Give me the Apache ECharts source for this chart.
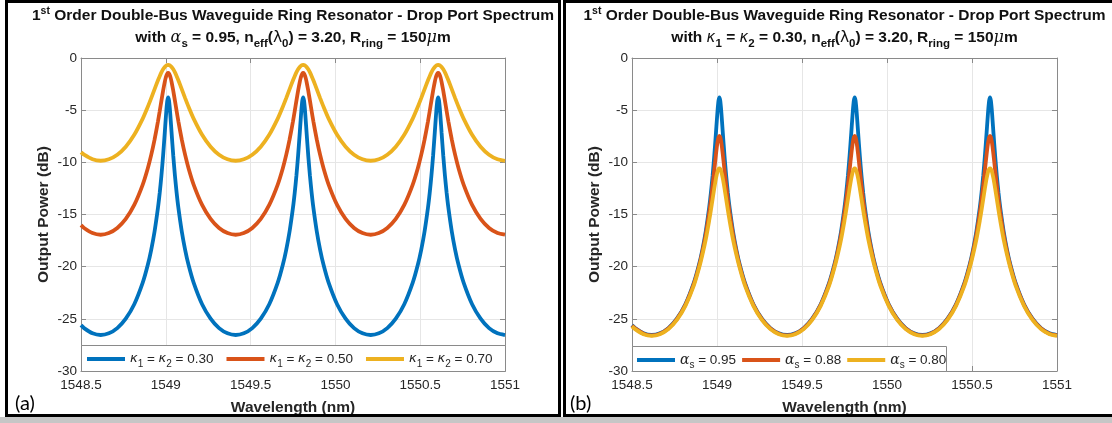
<!DOCTYPE html>
<html><head><meta charset="utf-8">
<script src="https://cdn.jsdelivr.net/npm/echarts@6/dist/echarts.min.js"></script>
<style>html,body{margin:0;padding:0;background:#fff}#c{width:1112px;height:423px}</style>
</head><body><div id="c"></div><script>
// ---- data ----
const wavelength = [
 1548.5, 1548.518, 1548.568, 1548.616,
 1548.664, 1548.714, 1548.764, 1548.814, 1548.864, 1548.894, 1548.914, 1548.934, 1548.954, 1548.964, 1548.974, 1548.984, 1548.994, 1548.999, 1549.004, 1549.009,
 1549.014,
 1549.019, 1549.024, 1549.029, 1549.034, 1549.044, 1549.054, 1549.064, 1549.074, 1549.094, 1549.114, 1549.134, 1549.164, 1549.214, 1549.264, 1549.314, 1549.364, 1549.412,
 1549.46, 1549.51, 1549.56, 1549.61, 1549.66, 1549.69, 1549.71, 1549.73, 1549.75, 1549.76, 1549.77, 1549.78, 1549.79, 1549.795, 1549.8, 1549.805,
 1549.81,
 1549.815, 1549.82, 1549.825, 1549.83, 1549.84, 1549.85, 1549.86, 1549.87, 1549.89, 1549.91, 1549.93, 1549.96, 1550.01, 1550.06, 1550.11, 1550.16, 1550.208,
 1550.256, 1550.306, 1550.356, 1550.406, 1550.456, 1550.486, 1550.506, 1550.526, 1550.546, 1550.556, 1550.566, 1550.576, 1550.586, 1550.591, 1550.596, 1550.601,
 1550.606,
 1550.611, 1550.616, 1550.621, 1550.626, 1550.636, 1550.646, 1550.656, 1550.666, 1550.686, 1550.706, 1550.726, 1550.756, 1550.806, 1550.856, 1550.906, 1550.956, 1551
];
// panel (a): alpha_s = 0.95 ; kappa1 = kappa2 = 0.30 (also alpha_s = 0.95 curve of panel b)
const kappa030 = [
 -25.61, -25.89, -26.39, -26.55,
 -26.39, -25.89, -24.98, -23.60, -21.53, -19.82, -18.38, -16.60, -14.33, -12.94, -11.30, -9.37, -7.14, -5.98, -4.89, -4.08,
 -3.78,
 -4.08, -4.89, -5.98, -7.14, -9.37, -11.30, -12.94, -14.33, -16.60, -18.38, -19.82, -21.53, -23.60, -24.98, -25.89, -26.39, -26.55,
 -26.39, -25.89, -24.98, -23.60, -21.53, -19.82, -18.38, -16.60, -14.33, -12.94, -11.30, -9.37, -7.14, -5.98, -4.89, -4.08,
 -3.78,
 -4.08, -4.89, -5.98, -7.14, -9.37, -11.30, -12.94, -14.33, -16.60, -18.38, -19.82, -21.53, -23.60, -24.98, -25.89, -26.39, -26.55,
 -26.39, -25.89, -24.98, -23.60, -21.53, -19.82, -18.38, -16.60, -14.33, -12.94, -11.30, -9.37, -7.14, -5.98, -4.89, -4.08,
 -3.78,
 -4.08, -4.89, -5.98, -7.14, -9.37, -11.30, -12.94, -14.33, -16.60, -18.38, -19.82, -21.53, -23.60, -24.98, -25.89, -26.39, -26.55
];
const kappa050 = [
 -16.02, -16.29, -16.78, -16.94,
 -16.78, -16.29, -15.42, -14.08, -12.13, -10.56, -9.29, -7.80, -6.06, -5.10, -4.11, -3.14, -2.28, -1.93, -1.66, -1.49,
 -1.44,
 -1.49, -1.66, -1.93, -2.28, -3.14, -4.11, -5.10, -6.06, -7.80, -9.29, -10.56, -12.13, -14.08, -15.42, -16.29, -16.78, -16.94,
 -16.78, -16.29, -15.42, -14.08, -12.13, -10.56, -9.29, -7.80, -6.06, -5.10, -4.11, -3.14, -2.28, -1.93, -1.66, -1.49,
 -1.44,
 -1.49, -1.66, -1.93, -2.28, -3.14, -4.11, -5.10, -6.06, -7.80, -9.29, -10.56, -12.13, -14.08, -15.42, -16.29, -16.78, -16.94,
 -16.78, -16.29, -15.42, -14.08, -12.13, -10.56, -9.29, -7.80, -6.06, -5.10, -4.11, -3.14, -2.28, -1.93, -1.66, -1.49,
 -1.44,
 -1.49, -1.66, -1.93, -2.28, -3.14, -4.11, -5.10, -6.06, -7.80, -9.29, -10.56, -12.13, -14.08, -15.42, -16.29, -16.78, -16.94
];
const kappa070 = [
 -9.03, -9.27, -9.71, -9.85,
 -9.71, -9.27, -8.50, -7.36, -5.81, -4.67, -3.84, -2.98, -2.13, -1.74, -1.38, -1.08, -0.86, -0.77, -0.71, -0.68,
 -0.66,
 -0.68, -0.71, -0.77, -0.86, -1.08, -1.38, -1.74, -2.13, -2.98, -3.84, -4.67, -5.81, -7.36, -8.50, -9.27, -9.71, -9.85,
 -9.71, -9.27, -8.50, -7.36, -5.81, -4.67, -3.84, -2.98, -2.13, -1.74, -1.38, -1.08, -0.86, -0.77, -0.71, -0.68,
 -0.66,
 -0.68, -0.71, -0.77, -0.86, -1.08, -1.38, -1.74, -2.13, -2.98, -3.84, -4.67, -5.81, -7.36, -8.50, -9.27, -9.71, -9.85,
 -9.71, -9.27, -8.50, -7.36, -5.81, -4.67, -3.84, -2.98, -2.13, -1.74, -1.38, -1.08, -0.86, -0.77, -0.71, -0.68,
 -0.66,
 -0.68, -0.71, -0.77, -0.86, -1.08, -1.38, -1.74, -2.13, -2.98, -3.84, -4.67, -5.81, -7.36, -8.50, -9.27, -9.71, -9.85
];
// panel (b): kappa1 = kappa2 = 0.30
const alpha095 = kappa030;
const alpha088 = [
 -25.65, -25.92, -26.42, -26.58,
 -26.42, -25.92, -25.03, -23.66, -21.63, -19.96, -18.57, -16.89, -14.81, -13.59, -12.22, -10.73, -9.22, -8.54, -7.97, -7.59,
 -7.46,
 -7.59, -7.97, -8.54, -9.22, -10.73, -12.22, -13.59, -14.81, -16.89, -18.57, -19.96, -21.63, -23.66, -25.03, -25.92, -26.42, -26.58,
 -26.42, -25.92, -25.03, -23.66, -21.63, -19.96, -18.57, -16.89, -14.81, -13.59, -12.22, -10.73, -9.22, -8.54, -7.97, -7.59,
 -7.46,
 -7.59, -7.97, -8.54, -9.22, -10.73, -12.22, -13.59, -14.81, -16.89, -18.57, -19.96, -21.63, -23.66, -25.03, -25.92, -26.42, -26.58,
 -26.42, -25.92, -25.03, -23.66, -21.63, -19.96, -18.57, -16.89, -14.81, -13.59, -12.22, -10.73, -9.22, -8.54, -7.97, -7.59,
 -7.46,
 -7.59, -7.97, -8.54, -9.22, -10.73, -12.22, -13.59, -14.81, -16.89, -18.57, -19.96, -21.63, -23.66, -25.03, -25.92, -26.42, -26.58
];
const alpha080 = [
 -25.72, -25.99, -26.48, -26.64,
 -26.48, -25.99, -25.11, -23.76, -21.80, -20.16, -18.86, -17.38, -15.58, -14.58, -13.53, -12.48, -11.53, -11.14, -10.83, -10.64,
 -10.58,
 -10.64, -10.83, -11.14, -11.53, -12.48, -13.53, -14.58, -15.58, -17.38, -18.86, -20.16, -21.80, -23.76, -25.11, -25.99, -26.48, -26.64,
 -26.48, -25.99, -25.11, -23.76, -21.80, -20.16, -18.86, -17.38, -15.58, -14.58, -13.53, -12.48, -11.53, -11.14, -10.83, -10.64,
 -10.58,
 -10.64, -10.83, -11.14, -11.53, -12.48, -13.53, -14.58, -15.58, -17.38, -18.86, -20.16, -21.80, -23.76, -25.11, -25.99, -26.48, -26.64,
 -26.48, -25.99, -25.11, -23.76, -21.80, -20.16, -18.86, -17.38, -15.58, -14.58, -13.53, -12.48, -11.53, -11.14, -10.83, -10.64,
 -10.58,
 -10.64, -10.83, -11.14, -11.53, -12.48, -13.53, -14.58, -15.58, -17.38, -18.86, -20.16, -21.80, -23.76, -25.11, -25.99, -26.48, -26.64
];
const xRange = [1548.5, 1551];
const xStep = 0.5;
const yRange = [-30, 0];
const yStep = 5;
const legendLabelsA = ['0.30', '0.50', '0.70'];
const legendLabelsB = ['0.95', '0.88', '0.80'];

// ---- styling ----
const FONT = '"Liberation Sans", Arial, Helvetica, sans-serif';
const GREEK = '"DejaVu Serif", serif';
const GREEKS = '"DejaVu Sans", sans-serif';
const AX = '#8a8a8a';
const GRIDC = '#e6e6e6';
const TXT = '#262626';
const C1 = '#0072BD', C2 = '#D95319', C3 = '#EDB120';
const gridBoxes = [
  {left: 81, top: 58, width: 424, height: 313},
  {left: 632, top: 58, width: 425, height: 313}
];

function pairs(arr) { return wavelength.map((w, i) => [w, arr[i]]); }

function xAxesFor(g) {
  return [{
    gridIndex: g, type: 'value', min: xRange[0], max: xRange[1], interval: xStep, position: 'bottom',
    axisLine: {show: true, onZero: false, lineStyle: {color: AX, width: 1}},
    axisTick: {show: true, inside: true, length: 5, lineStyle: {color: AX}},
    splitLine: {show: true, lineStyle: {color: GRIDC, width: 1}},
    axisLabel: {color: TXT, fontSize: 13.5, fontFamily: FONT, margin: 7, formatter: v => String(v)},
    name: 'Wavelength (nm)', nameLocation: 'middle', nameGap: 29,
    nameTextStyle: {fontWeight: 'bold', fontSize: 15.5, color: TXT, fontFamily: FONT}
  }, {
    gridIndex: g, type: 'value', min: xRange[0], max: xRange[1], interval: xStep, position: 'top',
    axisLine: {show: true, onZero: false, lineStyle: {color: AX, width: 1}},
    axisTick: {show: true, inside: true, length: 5, lineStyle: {color: AX}},
    splitLine: {show: false}, axisLabel: {show: false}
  }];
}
function yAxesFor(g) {
  return [{
    gridIndex: g, type: 'value', min: yRange[0], max: yRange[1], interval: yStep, position: 'left',
    axisLine: {show: true, onZero: false, lineStyle: {color: AX, width: 1}},
    axisTick: {show: true, inside: true, length: 5, lineStyle: {color: AX}},
    splitLine: {show: true, lineStyle: {color: GRIDC, width: 1}},
    axisLabel: {color: TXT, fontSize: 13.5, fontFamily: FONT, margin: 4, formatter: v => String(v)},
    name: 'Output Power (dB)', nameLocation: 'middle', nameGap: 29,
    nameTextStyle: {fontWeight: 'bold', fontSize: 15.5, color: TXT, fontFamily: FONT}
  }, {
    gridIndex: g, type: 'value', min: yRange[0], max: yRange[1], interval: yStep, position: 'right',
    axisLine: {show: true, onZero: false, lineStyle: {color: AX, width: 1}},
    axisTick: {show: true, inside: true, length: 5, lineStyle: {color: AX}},
    splitLine: {show: false}, axisLabel: {show: false}
  }];
}

function lineSeries(name, arr, color, g) {
  return {
    name, type: 'line', xAxisIndex: g * 2, yAxisIndex: g * 2, data: pairs(arr),
    symbol: 'none', showSymbol: false, smooth: 0.2, clip: true,
    lineStyle: {width: 3.8, color}, itemStyle: {color}, z: 2
  };
}

const legendRich = {
  t: {fontSize: 13.5, fontFamily: FONT, color: TXT},
  g: {fontSize: 14, fontFamily: GREEK, fontStyle: 'italic', color: TXT},
  k: {fontSize: 13, fontFamily: GREEKS, fontStyle: 'italic', color: TXT},
  s: {fontSize: 10, fontFamily: FONT, color: TXT, padding: [10, 0, 0, 0]}
};
const legendNames = {
  k30: '{k|κ}{s|1}{t| = }{k|κ}{s|2}{t| = ' + legendLabelsA[0] + '}',
  k50: '{k|κ}{s|1}{t| = }{k|κ}{s|2}{t| = ' + legendLabelsA[1] + '}',
  k70: '{k|κ}{s|1}{t| = }{k|κ}{s|2}{t| = ' + legendLabelsA[2] + '}',
  a95: '{g|α}{s|s}{t| = ' + legendLabelsB[0] + '}',
  a88: '{g|α}{s|s}{t| = ' + legendLabelsB[1] + '}',
  a80: '{g|α}{s|s}{t| = ' + legendLabelsB[2] + '}'
};
function legendFor(names, left, top, gap) {
  return {
    data: names, left, top, orient: 'horizontal', itemWidth: 38, itemHeight: 4, itemGap: gap,
    icon: 'rect', padding: 0, z: 10, selectedMode: false,
    formatter: n => legendNames[n],
    textStyle: {color: TXT, fontSize: 13.5, fontFamily: FONT, rich: legendRich}
  };
}

const TC = '#111';
const titleRich = {
  b: {fontSize: 15.5, fontWeight: 'bold', fontFamily: FONT, fill: TC, color: TC},
  sup: {fontSize: 10.5, fontWeight: 'bold', fontFamily: FONT, fill: TC, color: TC, padding: [0, 0, 9, 0]},
  sub: {fontSize: 11.5, fontWeight: 'bold', fontFamily: FONT, fill: TC, color: TC, padding: [11, 0, 0, 0]},
  g: {fontSize: 16, fontStyle: 'italic', fontFamily: GREEK, fill: TC, color: TC},
  k: {fontSize: 15, fontStyle: 'italic', fontFamily: GREEKS, fill: TC, color: TC},
  l: {fontSize: 15.5, fontFamily: GREEKS, fill: TC, color: TC}
};
const title1 = '{b|1}{sup|st}{b| Order Double-Bus Waveguide Ring Resonator - Drop Port Spectrum}';
const title2a = '{b|with }{g|α}{sub|s}{b| = 0.95, n}{sub|eff}{b|(}{l|λ}{sub|0}{b|) = 3.20, R}{sub|ring}{b| = 150}{g|μ}{b|m}';
const title2b = '{b|with }{k|κ}{sub|1}{b| = }{k|κ}{sub|2}{b| = 0.30, n}{sub|eff}{b|(}{l|λ}{sub|0}{b|) = 3.20, R}{sub|ring}{b| = 150}{g|μ}{b|m}';

function textEl(x, y, text, align) {
  return {type: 'text', x, y, z: 20, style: {text, rich: titleRich, align: align || 'center', verticalAlign: 'middle',
    textAlign: align || 'center', textVerticalAlign: 'middle', fontSize: 15.5, fontFamily: FONT, fill: TC}};
}

const cA = gridBoxes[0].left + gridBoxes[0].width / 2;
const cB = gridBoxes[1].left + gridBoxes[1].width / 2;

const option = {
  animation: false,
  backgroundColor: '#fff',
  grid: gridBoxes.map(b => Object.assign({containLabel: false}, b)),
  xAxis: [...xAxesFor(0), ...xAxesFor(1)],
  yAxis: [...yAxesFor(0), ...yAxesFor(1)],
  legend: [legendFor(['k30', 'k50', 'k70'], 87, 352, 13), legendFor(['a95', 'a88', 'a80'], 637, 353, 6)],
  series: [
    lineSeries('k30', kappa030, C1, 0),
    lineSeries('k50', kappa050, C2, 0),
    lineSeries('k70', kappa070, C3, 0),
    lineSeries('a95', alpha095, C1, 1),
    lineSeries('a88', alpha088, C2, 1),
    lineSeries('a80', alpha080, C3, 1)
  ],
  graphic: [
    // legend boxes
    {type: 'rect', z: 5, shape: {x: 81.5, y: 345.5, width: 424, height: 26}, style: {fill: '#fff', stroke: AX, lineWidth: 1}},
    {type: 'rect', z: 5, shape: {x: 632.5, y: 346.5, width: 314, height: 25}, style: {fill: '#fff', stroke: AX, lineWidth: 1}},
    // panel frames
    {type: 'rect', z: 30, shape: {x: 6.5, y: 1.5, width: 553, height: 414}, style: {fill: 'none', stroke: '#000', lineWidth: 3}},
    {type: 'rect', z: 30, shape: {x: 564.5, y: 1.5, width: 560, height: 414}, style: {fill: 'none', stroke: '#000', lineWidth: 3}},
    {type: 'rect', z: 29, shape: {x: 0, y: 417, width: 1112, height: 6}, style: {fill: '#c6c6c6'}},
    // titles
    textEl(cA, 16, title1), textEl(cA, 38, title2a),
    textEl(cB, 16, title1), textEl(cB, 38, title2b),
    // panel labels
    {type: 'text', x: 15, y: 404, z: 20, style: {text: '(a)', fontSize: 20, fontFamily: 'Lato, sans-serif', fill: '#000', align: 'left', verticalAlign: 'middle', textAlign: 'left', textVerticalAlign: 'middle'}},
    {type: 'text', x: 570, y: 404, z: 20, style: {text: '(b)', fontSize: 20, fontFamily: 'Lato, sans-serif', fill: '#000', align: 'left', verticalAlign: 'middle', textAlign: 'left', textVerticalAlign: 'middle'}}
  ]
};
const chart = echarts.init(document.getElementById('c'), null, {renderer: 'canvas'});
chart.setOption(option);
</script></body></html>
